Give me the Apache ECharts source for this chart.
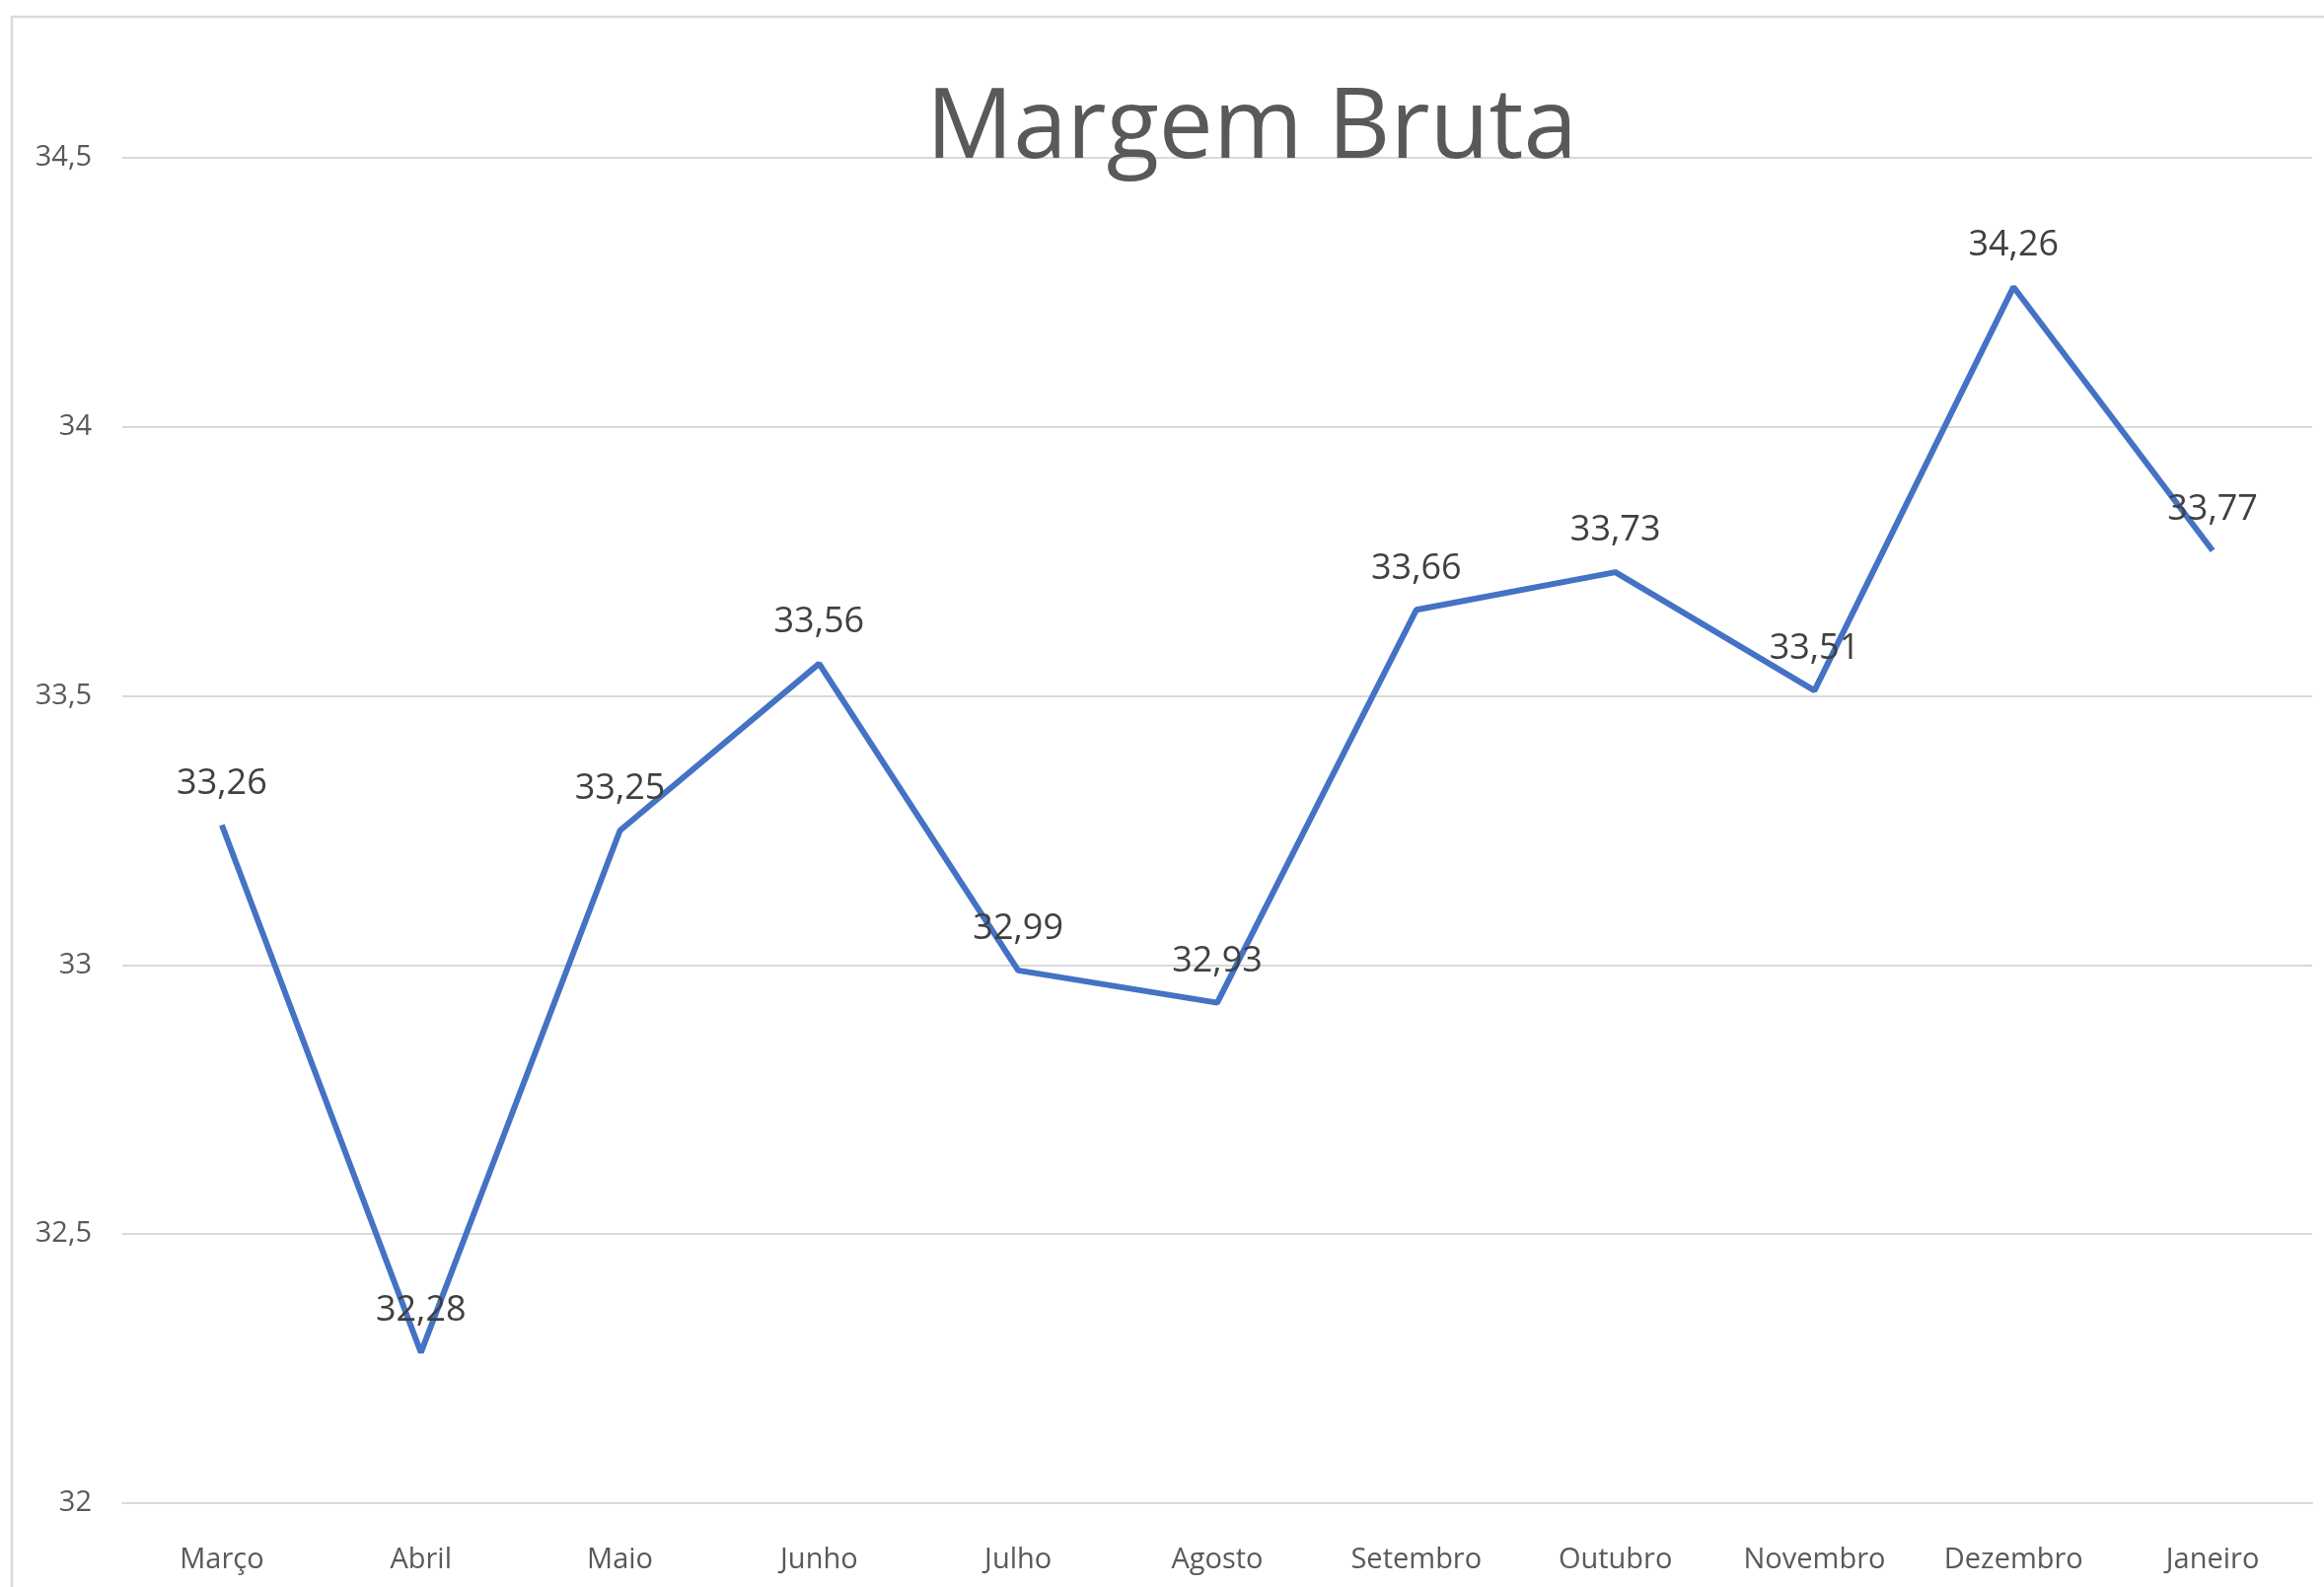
<!DOCTYPE html>
<html>
<head>
<meta charset="utf-8">
<script src="https://cdn.jsdelivr.net/npm/echarts@6/dist/echarts.min.js"></script>
<style>
html,body{margin:0;padding:0;background:#fff;}
#chart{width:2356px;height:1609px;}
</style>
</head>
<body>
<div id="chart"></div>
<script>
const categories = ['Março','Abril','Maio','Junho','Julho','Agosto','Setembro','Outubro','Novembro','Dezembro','Janeiro'];
const margemBruta = [33.26, 32.28, 33.25, 33.56, 32.99, 32.93, 33.66, 33.73, 33.51, 34.26, 33.77];
const yMin = 32, yMax = 34.5, yStep = 0.5;
const titleText = 'Margem Bruta';

const fmt = v => String(v).replace('.', ',');
const chart = echarts.init(document.getElementById('chart'), null, {renderer:'canvas'});
chart.setOption({
  backgroundColor:'#ffffff',
  animation:false,
  title:{
    text:titleText,
    left:934, top:78,
    textStyle:{fontFamily:'Open Sans', fontSize:98, fontWeight:'normal', color:'#595959'}
  },
  graphic:[{
    type:'rect', z:-1, silent:true,
    shape:{x:12, y:17, width:2500, height:1700},
    style:{fill:'none', stroke:'#d9d9d9', lineWidth:2.5}
  }],
  grid:{left:124, right:12, top:160, bottom:1609-1524, containLabel:false},
  xAxis:{
    type:'category', data:categories, boundaryGap:true,
    axisLine:{show:true, lineStyle:{color:'#d9d9d9', width:2}},
    axisTick:{show:false},
    axisLabel:{margin:43, color:'#595959', fontFamily:'Open Sans', fontSize:29, interval:0}
  },
  yAxis:{
    type:'value', min:yMin, max:yMax, interval:yStep,
    axisLine:{show:false}, axisTick:{show:false},
    splitLine:{lineStyle:{color:'#d9d9d9', width:2}},
    axisLabel:{margin:31, color:'#595959', fontFamily:'Open Sans', fontSize:29, formatter:fmt}
  },
  series:[{
    type:'line', data:margemBruta, symbol:'circle', symbolSize:0, showSymbol:true,
    itemStyle:{color:'#4472C4'},
    lineStyle:{color:'#4472C4', width:6},
    label:{show:true, position:'top', distance:24, color:'#404040',
      fontFamily:'Open Sans', fontSize:36, formatter:p=>fmt(p.value)}
  }]
});
</script>
</body>
</html>
